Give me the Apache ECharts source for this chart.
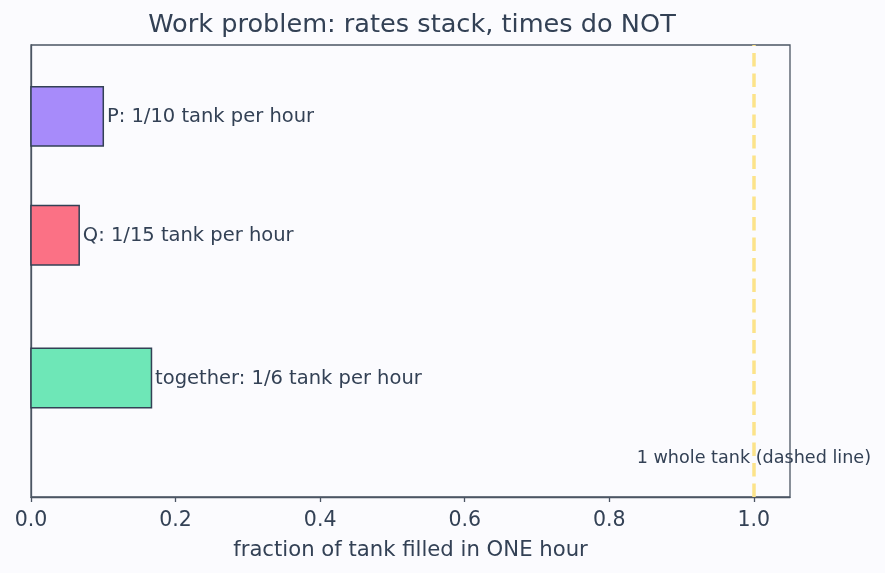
<!DOCTYPE html>
<html>
<head>
<meta charset="utf-8">
<script src="https://cdn.jsdelivr.net/npm/echarts@6/dist/echarts.min.js"></script>
<style>html,body{margin:0;padding:0;background:#fbfbfe;}#c{width:885px;height:573px;}</style>
</head>
<body>
<div id="c"></div>
<script>
var labels = ['P: 1/10 tank per hour', 'Q: 1/15 tank per hour', 'together: 1/6 tank per hour'];
var rates = [1/10, 1/15, 1/6];
var rows = [2, 1, -0.2];
var colors = ['#a78bfa', '#fb7185', '#6ee7b7'];
var xTicks = [0, 0.2, 0.4, 0.6, 0.8, 1.0];
var wholeTank = 1.0;
var noteText = '1 whole tank (dashed line)';
var noteRow = -0.875;

var TEXT = '#334155';
var FONT = 'DejaVu Sans';
var chart = echarts.init(document.getElementById('c'), null, {renderer: 'canvas'});
var barData = rates.map(function (r, i) { return [r, rows[i], i]; });
chart.setOption({
  backgroundColor: '#fbfbfe',
  animation: false,
  title: {
    text: 'Work problem: rates stack, times do NOT',
    left: 407, top: 7, textAlign: 'center',
    textStyle: {fontFamily: FONT, fontSize: 25.6, fontWeight: 'normal', color: TEXT}
  },
  grid: {left: 31, right: 95, top: 45, bottom: 76, show: true, borderColor: '#4b5563', borderWidth: 1.3, backgroundColor: 'transparent'},
  xAxis: {
    type: 'value', min: 0, max: 1.05,
    name: 'fraction of tank filled in ONE hour', nameLocation: 'middle', nameGap: 43,
    nameTextStyle: {fontFamily: FONT, fontSize: 21.2, color: TEXT},
    axisLine: {show: true, onZero: false, lineStyle: {color: '#4b5563', width: 1.3}},
    axisTick: {show: true, length: 5, customValues: xTicks, lineStyle: {color: '#4b5563', width: 1.3}},
    axisLabel: {customValues: xTicks, margin: 13, fontFamily: FONT, fontSize: 20.5, color: TEXT,
      formatter: function (v) { return v.toFixed(1); }},
    splitLine: {show: false}
  },
  yAxis: {
    type: 'value', min: -1.2, max: 2.6,
    axisLine: {show: true, onZero: false, lineStyle: {color: '#4b5563', width: 1.3}},
    axisTick: {show: false}, axisLabel: {show: false}, splitLine: {show: false}
  },
  series: [
    {
      type: 'custom',
      data: barData,
      encode: {x: 0, y: 1},
      renderItem: function (params, api) {
        var v = api.value(0), y = api.value(1), i = api.value(2);
        var p0 = api.coord([0, y + 0.25]);
        var p1 = api.coord([v, y - 0.25]);
        var pt = api.coord([v + 0.005, y]);
        return {
          type: 'group',
          children: [
            {type: 'rect', shape: {x: p0[0], y: p0[1], width: p1[0] - p0[0], height: p1[1] - p0[1]},
              style: {fill: colors[i], stroke: '#334155', lineWidth: 1.5}},
            {type: 'text', x: pt[0], y: pt[1] + 1,
              style: {text: labels[i], fill: TEXT, font: '19.5px "DejaVu Sans"', textAlign: 'left', textVerticalAlign: 'middle'}}
          ]
        };
      },
      markLine: {
        silent: true, symbol: 'none',
        label: {show: false},
        emphasis: {disabled: true},
        lineStyle: {color: '#fce38a', opacity: 1, width: 3.5, type: [13.5, 7]},
        data: [{xAxis: wholeTank}]
      }
    },
    {
      type: 'custom',
      data: [[wholeTank, noteRow]],
      encode: {x: 0, y: 1},
      z: 1,
      renderItem: function (params, api) {
        var p = api.coord([api.value(0), api.value(1)]);
        return {type: 'text', x: p[0], y: p[1],
          style: {text: noteText, fill: TEXT, font: '17.6px "DejaVu Sans"', textAlign: 'center', textVerticalAlign: 'middle'}};
      }
    }
  ]
});
</script>
</body>
</html>
